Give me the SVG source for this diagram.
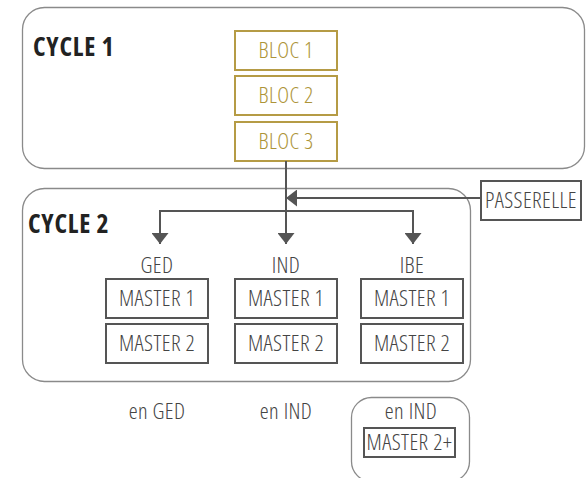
<svg xmlns="http://www.w3.org/2000/svg" width="586" height="478" viewBox="0 0 586 478">
<style>
.frame{fill:none;stroke:#8a8a8a;stroke-width:1.3}
.bloc{fill:#fff;stroke:#b59b45;stroke-width:2}
.box{fill:#fff;stroke:#555;stroke-width:2}
.t{font-family:"Open Sans","Liberation Sans",sans-serif;font-weight:320;font-stretch:condensed;font-size:22.5px;letter-spacing:0.4px;fill:#444;text-anchor:middle}
.tb{fill:#ad9438}
.h{font-family:"Open Sans","Liberation Sans",sans-serif;font-weight:700;font-stretch:condensed;font-size:26px;letter-spacing:0.8px;fill:#222}
.ln{fill:none;stroke:#555;stroke-width:2}
</style>
<defs>
<marker id="ah" viewBox="0 0 11 17" refX="11" refY="8.5" markerWidth="11" markerHeight="17" markerUnits="userSpaceOnUse" orient="auto"><path d="M0,0 L11,8.5 L0,17 z" fill="#555"/></marker>
</defs>
<g id="cycle1">
<rect class="frame" x="22.5" y="7.5" width="562" height="161" rx="22"/>
<text class="h" x="33" y="56">CYCLE 1</text>
</g>
<g id="bloc1"><rect class="bloc" x="235" y="31" width="102" height="39"/><text class="t tb" x="286" y="58">BLOC 1</text></g>
<g id="bloc2"><rect class="bloc" x="235" y="76" width="102" height="39"/><text class="t tb" x="286" y="103">BLOC 2</text></g>
<g id="bloc3"><rect class="bloc" x="235" y="122" width="102" height="39"/><text class="t tb" x="286" y="149">BLOC 3</text></g>
<g id="cycle2">
<rect class="frame" x="22.5" y="188.5" width="448" height="193" rx="22"/>
<text class="h" x="28" y="233">CYCLE 2</text>
</g>
<g id="passerelle"><rect class="box" x="481" y="181" width="100" height="39"/><text class="t" x="531" y="208">PASSERELLE</text></g>
<g id="connectors">
<path class="ln" d="M286,161 V244" marker-end="url(#ah)"/>
<path class="ln" d="M160,244 V211 H413 V244" marker-end="url(#ah)"/>
<path class="ln" d="M160,230 V244" marker-end="url(#ah)"/>
<path class="ln" d="M481,198 H286" marker-end="url(#ah)"/>
</g>
<g id="ged">
<text class="t" x="157" y="273">GED</text>
<rect class="box" x="106" y="279" width="102" height="39"/><text class="t" x="157" y="306">MASTER 1</text>
<rect class="box" x="106" y="324" width="102" height="39"/><text class="t" x="157" y="351">MASTER 2</text>
</g>
<g id="ind">
<text class="t" x="286" y="273">IND</text>
<rect class="box" x="235" y="279" width="102" height="39"/><text class="t" x="286" y="306">MASTER 1</text>
<rect class="box" x="235" y="324" width="102" height="39"/><text class="t" x="286" y="351">MASTER 2</text>
</g>
<g id="ibe">
<text class="t" x="412" y="273">IBE</text>
<rect class="box" x="361" y="279" width="102" height="39"/><text class="t" x="412" y="306">MASTER 1</text>
<rect class="box" x="361" y="324" width="102" height="39"/><text class="t" x="412" y="351">MASTER 2</text>
</g>
<g id="enged"><text class="t" x="157" y="419">en GED</text></g>
<g id="enind"><text class="t" x="286" y="419">en IND</text></g>
<g id="master2plus">
<rect class="frame" x="351.5" y="397.5" width="118" height="84" rx="20"/>
<text class="t" x="411" y="419">en IND</text>
<rect class="box" x="364" y="428" width="91" height="29"/><text class="t" x="409.5" y="450">MASTER 2+</text>
</g>
</svg>
